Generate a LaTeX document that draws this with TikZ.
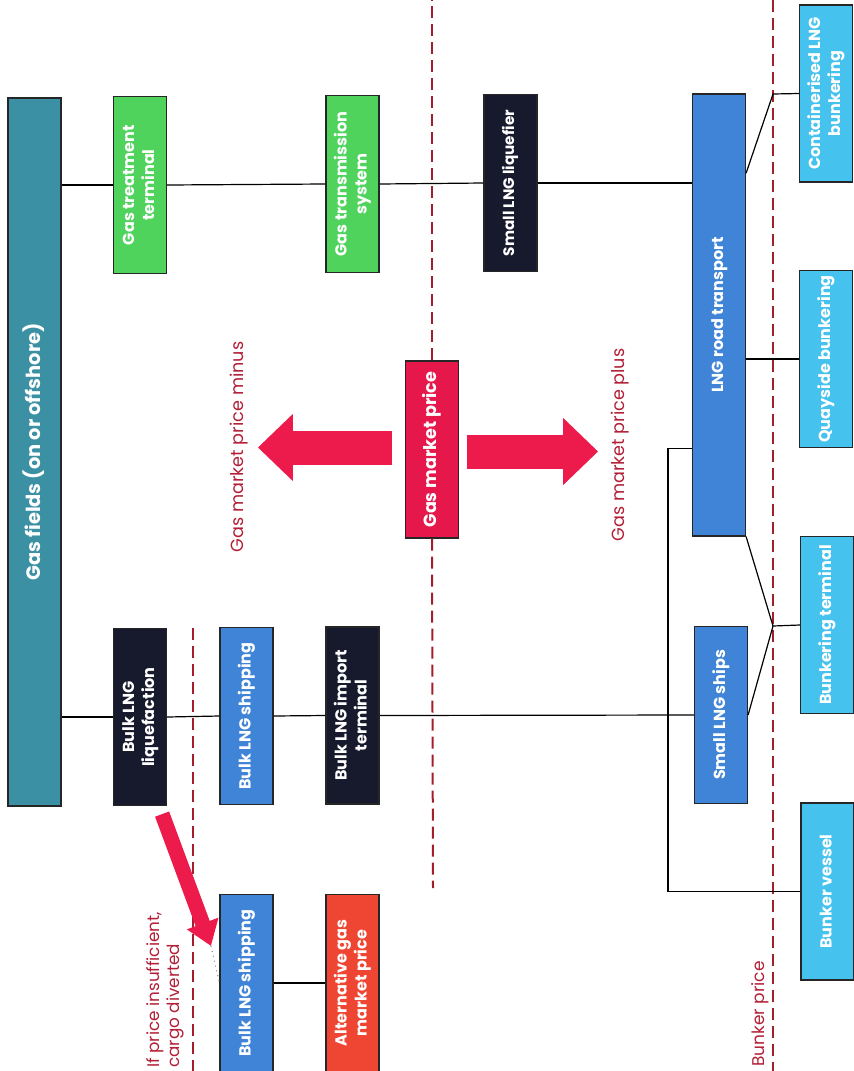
\documentclass[tikz,border=0pt]{standalone}
\usepackage{fontspec}
\setmainfont{Poppins}
\usepackage{graphicx}
\usetikzlibrary{arrows.meta,calc}
\definecolor{LngTeal}{HTML}{3B90A3}
\definecolor{LngGreen}{HTML}{4FD35C}
\definecolor{LngNavy}{HTML}{161A2C}
\definecolor{LngBlue}{HTML}{3F84D6}
\definecolor{LngSky}{HTML}{45C2EE}
\definecolor{LngCrimson}{HTML}{E6184B}
\definecolor{LngOrange}{HTML}{EE4633}
\definecolor{LngArrow}{HTML}{EC1B4B}
\definecolor{LngDash}{HTML}{A31D2B}
\definecolor{LngLabel}{HTML}{B21F36}
\newcommand{\boxfont}{\bfseries\fontsize{8}{10}\selectfont}
\newcommand{\bigboxfont}{\bfseries\fontsize{9.7}{11}\selectfont}
\newcommand{\lblfont}{\fontsize{8.8}{10.5}\selectfont}
\newcommand{\vlab}[1]{\rotatebox{90}{\begin{tabular}{@{}c@{}}#1\end{tabular}}}

\begin{document}
\begin{tikzpicture}[x=0.5pt, y=-0.5pt,
  box/.style={draw=black!85, line width=0.6pt, text=white, font=\boxfont, inner sep=0pt, minimum width=26.5pt, minimum height=88.5pt},
  lbl/.style={text=LngLabel, font=\lblfont, inner sep=0pt, rotate=90},
  link/.style={line width=0.6pt, black},
  pricecut/.style={LngDash, line width=1pt, dash pattern=on 6pt off 3pt},
  fatarrow/.style={LngArrow, line width=17pt, -{Triangle[length=17.5pt,width=32.5pt]}},
  divarrow/.style={LngArrow, line width=7.5pt, -{Triangle[length=12pt,width=16pt]}}]
\useasboundingbox (0,0) rectangle (854,1071);
% upstream
\node[box, fill=LngTeal, minimum height=354pt, font=\bigboxfont] (fields) at (34.5,452) {\vlab{Gas fields (on or offshore)}};
\node[box, fill=LngGreen] (treat) at (140,185) {\vlab{Gas treatment\\terminal}};
\node[box, fill=LngGreen] (trans) at (352.5,184) {\vlab{Gas transmission\\system}};
\node[box, fill=LngNavy, font=\bfseries\fontsize{7.6}{9}\selectfont] (smallliq) at (510.5,183) {\vlab{Small LNG liquefier}};
\node[box, fill=LngNavy] (liq) at (140,717) {\vlab{Bulk LNG\\liquefaction}};
\node[box, fill=LngBlue] (bship) at (246.5,716) {\vlab{Bulk LNG shipping}};
\node[box, fill=LngNavy] (import) at (352.5,715.5) {\vlab{Bulk LNG import\\terminal}};
\node[box, fill=LngBlue] (bship2) at (246.5,983) {\vlab{Bulk LNG shipping}};
\node[box, fill=LngOrange] (alt) at (352.5,983) {\vlab{Alternative gas\\market price}};
\node[box, fill=LngCrimson, font=\bfseries\fontsize{8.8}{10}\selectfont] (price) at (432,449.5) {\vlab{Gas market price}};
% small scale chain
\node[box, fill=LngBlue, minimum height=221pt] (road) at (719,315) {\vlab{LNG road transport}};
\node[box, fill=LngBlue] (ships) at (721,715) {\vlab{Small LNG ships}};
\node[box, fill=LngSky] (cont) at (826,93.5) {\vlab{Containerised LNG\\bunkering}};
\node[box, fill=LngSky] (quay) at (826,359) {\vlab{Quayside bunkering}};
\node[box, fill=LngSky] (bterm) at (827,625) {\vlab{Bunkering terminal}};
\node[box, fill=LngSky] (vessel) at (827.5,891.5) {\vlab{Bunker vessel}};
% price lines
\draw[pricecut] (193,628) -- (193,1071);
\draw[pricecut] (price.north) -- (price.north |- 0,0);
\draw[pricecut] (price.south) -- (433,888);
\draw[pricecut] (773,0) -- (773,1071);
% links
\draw[link] (fields.east |- treat.west) -- (treat.west);
\draw[link] (treat.east) -- (trans.west);
\draw[link] (trans.east) -- (smallliq.west);
\draw[link] (smallliq.east) -- (road.west |- smallliq.east);
\draw[link] (fields.east |- liq.west) -- (liq.west);
\draw[link] (liq.east) -- (bship.west);
\draw[link] (bship.east) -- (import.west);
\draw[link] (import.east) -- (ships.west);
\draw[link] (bship2.east) -- (alt.west);
\coordinate (cjoin) at (773,94);
\coordinate (bjoin) at (773,626);
\coordinate (vturn) at (668,891.5);
\draw[link] ($(road.north east)!0.18!(road.south east)$) -- (cjoin) -- (cont.west);
\draw[link] (road.east |- quay.west) -- (quay.west);
\draw[link] (road.south east) -- (bjoin) -- (bterm.west);
\draw[link] (ships.east) -- (bjoin);
\draw[link] (road.west |- quay.south) -| (vturn) -- (vessel.west);
% price arrows
\draw[fatarrow] ($(price.west)+(-13,-2)$) -- ++(-134,0);
\draw[fatarrow] ($(price.east)+(8,2)$) -- ++(131,0);
\coordinate (divtip) at (211,946);
\draw[divarrow] ($(liq.south east)+(-5,8)$) -- (divtip);
\draw[gray, dotted, line width=0.5pt] (divtip) -- (bship2.west);
% labels
\node[lbl] (minuslbl) at (239,447) {Gas market price minus};
\node[lbl] (pluslbl) at (620,445) {Gas market price plus};
\node[lbl, align=left, anchor=west, font=\fontsize{8.4}{10}\selectfont] (divlbl) at (165,1068) {If price insufficient,\\cargo diverted};
\node[lbl, font=\fontsize{8.5}{10}\selectfont] (bunkerlbl) at (760,1014) {Bunker price};
\end{tikzpicture}
\end{document}
